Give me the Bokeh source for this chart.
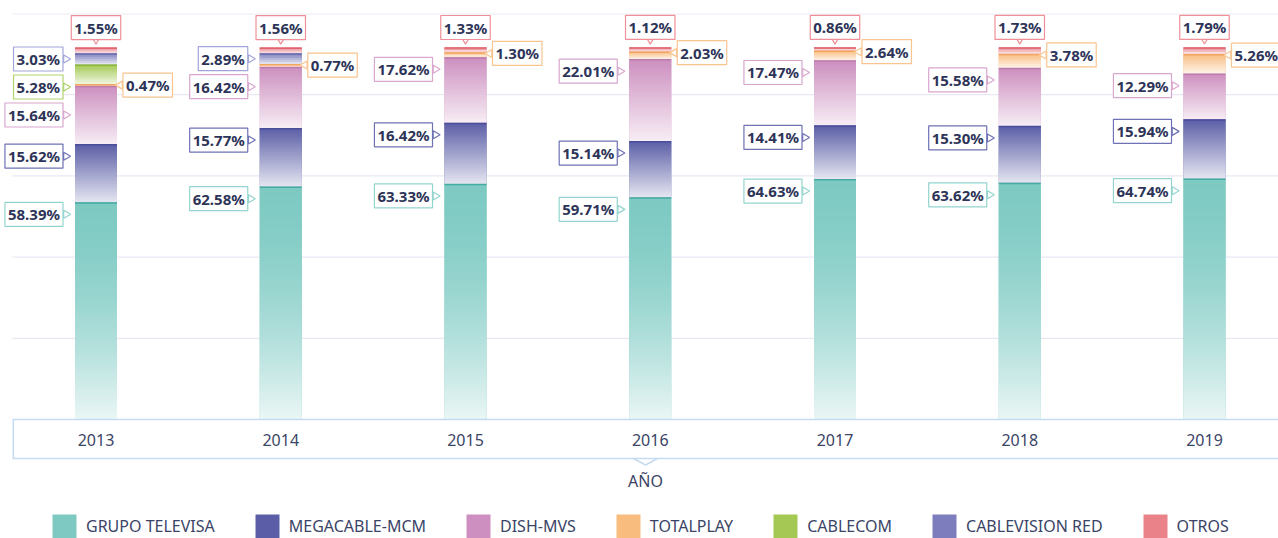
import numpy as np
from bokeh.plotting import figure
from bokeh.models import (ColumnDataSource, FixedTicker, LinearAxis, Range1d,
                          Legend, LegendItem)
from bokeh.embed import file_html
from bokeh.resources import INLINE
from bokeh.core.properties import value, field

# ---------------- data ----------------
years = [2013, 2014, 2015, 2016, 2017, 2018, 2019]
grupo_televisa = [58.39, 62.58, 63.33, 59.71, 64.63, 63.62, 64.74]
megacable_mcm = [15.62, 15.77, 16.42, 15.14, 14.41, 15.30, 15.94]
dish_mvs = [15.64, 16.42, 17.62, 22.01, 17.47, 15.58, 12.29]
totalplay = [0.47, 0.77, 1.30, 2.03, 2.64, 3.78, 5.26]
cablecom = [5.28, 0, 0, 0, 0, 0, 0]
cablevision_red = [3.03, 2.89, 0, 0, 0, 0, 0]
otros = [1.55, 1.56, 1.33, 1.12, 0.86, 1.73, 1.79]

series_names = ["GRUPO TELEVISA", "MEGACABLE-MCM", "DISH-MVS", "TOTALPLAY",
                "CABLECOM", "CABLEVISION RED", "OTROS"]
series_keys = ["televisa", "megacable", "dish", "totalplay", "cablecom",
               "cablevision", "otros"]
series_values = [grupo_televisa, megacable_mcm, dish_mvs, totalplay, cablecom,
                 cablevision_red, otros]
axis_title = "AÑO"

# ---------------- style ----------------
colors = ["#7ecac3", "#5b5ea6", "#cc8fbf", "#f9bc7f", "#a4c853", "#7d7dbd", "#e98289"]
edge_colors = ["#45aaa1", "#4a4d9a", "#bb7bae", "#f2a560", "#8fb83e", "#6b6bb0", "#df6470"]
label_colors = ["#93d5ce", "#6e71b4", "#d8a6ce", "#f9c48f", "#b0d36c", "#a2a5da", "#ef8f97"]
fade_power = [1.7, 1.0, 1.0, 1.0, 1.0, 1.0, 1.0]
FADE_MAX = 0.84
LEFT_ORDER = [5, 4, 2, 1, 0]   # series labelled on the left, top to bottom
RIGHT_IDX = 3                  # series labelled on the right
TOP_IDX = 6                    # series labelled above the bar

FONT = "Noto Sans"
TEXT = "#2d3458"
AXIS_TEXT = "#3b4466"
BAND = "#c4dbf1"
GRID = "#e8e8f3"

W, H = 1278, 538
FRAME_TOP = 13
PLOT_H = 406                    # height of the 0..Y_TOP area
BAND_H = 39                     # height of the year band under the bars
EDGE_PX = 12                    # where grid and band start on the left
Y_TOP = 109.14
K = PLOT_H / Y_TOP              # px per data unit (y)
Y_MIN = -(H - FRAME_TOP - PLOT_H) / K
XK = 184.75                     # px per data unit (x)
X0 = years[0] - 95.5 / XK
X1 = X0 + W / XK
X_EDGE = X0 + EDGE_PX / XK
BAR_W = 42 / XK


def blend(hex_color, a):
    r, g, b = (int(hex_color[i:i + 2], 16) for i in (1, 3, 5))
    r = round(r + (255 - r) * a)
    g = round(g + (255 - g) * a)
    b = round(b + (255 - b) * a)
    return "#%02x%02x%02x" % (r, g, b)


p = figure(width=W, height=H, output_backend="svg", toolbar_location=None,
           x_range=Range1d(X0, X1), y_range=Range1d(Y_MIN, Y_TOP),
           min_border_left=0, min_border_right=0, min_border_top=FRAME_TOP,
           min_border_bottom=0)
p.outline_line_color = None
p.background_fill_color = "white"
p.border_fill_color = "white"
p.yaxis.visible = False
p.xgrid.visible = False
p.ygrid.visible = False

# horizontal grid lines (start at the band's left edge)
grid_y = [Y_TOP * k / 5 - (0.1 if k == 5 else 0) for k in range(1, 6)]
p.segment(x0=[X_EDGE] * len(grid_y), x1=[X1] * len(grid_y), y0=grid_y, y1=grid_y,
          line_color=GRID, line_width=1.2)

# ---------------- bars ----------------
src = ColumnDataSource(dict(year=years, **{k: v for k, v in zip(series_keys, series_values)}))
bar_renderers = p.vbar_stack(series_keys, x="year", width=BAR_W, fill_color=colors,
                             line_color=None, source=src)

# gradient slices (visual fade of each stacked segment)
gl, gr, gt, gb, gc = [], [], [], [], []
el, er, ey, ec = [], [], [], []
for j, vals in enumerate(series_values):
    for i, yr in enumerate(years):
        v = vals[i]
        if v <= 0:
            continue
        bottom = sum(series_values[m][i] for m in range(j))
        top = bottom + v
        n = max(2, int(round(v * K / 2.0)))
        for s in range(n):
            t0 = top - v * s / n
            t1 = top - v * (s + 1) / n
            f = (s + 0.5) / n
            gl.append(yr - BAR_W / 2)
            gr.append(yr + BAR_W / 2)
            gt.append(t0)
            gb.append(max(bottom, t1 - 1.0 / K))
            gc.append(blend(colors[j], FADE_MAX * f ** fade_power[j]))
        el.append(yr - BAR_W / 2)
        er.append(yr + BAR_W / 2)
        ey.append(top - 0.6 / K)
        ec.append(edge_colors[j])

p.quad(left="l", right="r", top="t", bottom="b", fill_color="c", line_color=None,
       source=ColumnDataSource(dict(l=gl, r=gr, t=gt, b=gb, c=gc)))
p.segment(x0="x0", x1="x1", y0="y", y1="y", line_color="c", line_width=1.5,
          source=ColumnDataSource(dict(x0=el, x1=er, y=ey, c=ec)))

# ---------------- value labels ----------------
GAP = 28
left = dict(x=[], y=[], text=[], bc=[], px=[])
right = dict(x=[], y=[], text=[], bc=[], px=[])
topl = dict(x=[], y=[], text=[], bc=[], py=[])
for i, yr in enumerate(years):
    vals = [s[i] for s in series_values]
    cum = np.cumsum(vals)
    ty = cum[-1] + 20 / K
    topl["x"].append(yr)
    topl["y"].append(ty)
    topl["text"].append(f"{vals[TOP_IDX]:.2f}%")
    topl["bc"].append(label_colors[TOP_IDX])
    topl["py"].append(cum[-1] + 8 / K)
    prev = ty
    for j in LEFT_ORDER:
        v = vals[j]
        if v <= 0:
            continue
        desired = cum[j] - min(v / 2, 12 / K)
        y = min(desired, prev - GAP / K)
        prev = y
        left["x"].append(yr - BAR_W / 2 - 12 / XK)
        left["y"].append(y)
        left["text"].append(f"{v:.2f}%")
        left["bc"].append(label_colors[j])
        left["px"].append(yr - BAR_W / 2 - 9 / XK)
    v = vals[RIGHT_IDX]
    if v > 0:
        y = cum[RIGHT_IDX] - min(v / 2, 1 / K)
        right["x"].append(yr + BAR_W / 2 + 6 / XK)
        right["y"].append(y)
        right["text"].append(f"{v:.2f}%")
        right["bc"].append(label_colors[RIGHT_IDX])
        right["px"].append(yr + BAR_W / 2 + 3 / XK)

lsrc = ColumnDataSource(left)
rsrc = ColumnDataSource(right)
tsrc = ColumnDataSource(topl)

ptr = dict(size=8, fill_color="white", line_color=field("bc"), line_width=1.2, marker="triangle")
p.scatter(x="px", y="y", angle=-np.pi / 2, source=lsrc, **ptr)
p.scatter(x="px", y="y", angle=np.pi / 2, source=rsrc, **ptr)
p.scatter(x="x", y="py", angle=np.pi, source=tsrc, **ptr)

txt = dict(text_font=value(FONT), text_font_size="15px", text_font_style="bold",
           text_color=TEXT, text_baseline="middle", background_fill_color="white",
           border_line_color=field("bc"), border_line_width=1.2,
           padding=dict(left=3, right=3, top=2, bottom=2))
p.text(x="x", y="y", text="text", source=lsrc, text_align="right", **txt)
p.text(x="x", y="y", text="text", source=rsrc, text_align="left", **txt)
p.text(x="x", y="y", text="text", source=tsrc, text_align="center", **txt)

# ---------------- x axis band ----------------
band_bottom = -BAND_H / K
x_mid = (X_EDGE + X1) / 2
p.segment(x0=[X_EDGE + 0.8 / XK], x1=[X_EDGE + 0.8 / XK], y0=[band_bottom], y1=[0],
          line_color=BAND, line_width=1.5)
p.line(x=[x_mid - 12 / XK, x_mid, x_mid + 12 / XK],
       y=[band_bottom, band_bottom - 6.5 / K, band_bottom],
       line_color=BAND, line_width=1.5)

ax = p.below[0]
ax.fixed_location = 0
ax.bounds = (X_EDGE, X1)
ax.ticker = FixedTicker(ticks=years)
ax.axis_line_color = BAND
ax.axis_line_width = 1.5
ax.major_tick_line_color = None
ax.minor_tick_line_color = None
ax.major_tick_out = 0
ax.minor_tick_out = 0
ax.major_label_standoff = 14
ax.major_label_text_font = FONT
ax.major_label_text_font_size = "16px"
ax.major_label_text_color = AXIS_TEXT

ax2 = LinearAxis(ticker=FixedTicker(ticks=[]), fixed_location=band_bottom,
                 bounds=(X_EDGE, X1),
                 axis_line_color=BAND, axis_line_width=1.5,
                 major_tick_out=0, minor_tick_out=0, major_label_standoff=0,
                 major_tick_line_color=None, minor_tick_line_color=None,
                 axis_label=axis_title, axis_label_standoff=11,
                 axis_label_text_font=FONT, axis_label_text_font_size="16px",
                 axis_label_text_font_style="normal", axis_label_text_color=AXIS_TEXT)
p.add_layout(ax2, "below")

# ---------------- legend ----------------
legend = Legend(items=[LegendItem(label=n, renderers=[r]) for n, r in zip(series_names, bar_renderers)],
                orientation="horizontal", location=(49, -3), margin=0, padding=0, spacing=37,
                glyph_width=30, glyph_height=30, label_standoff=7,
                label_text_font=FONT, label_text_font_size="16px", label_text_color=AXIS_TEXT,
                border_line_color=None, background_fill_alpha=0)
p.add_layout(legend)

open("out.html", "w").write(file_html(p, INLINE))
